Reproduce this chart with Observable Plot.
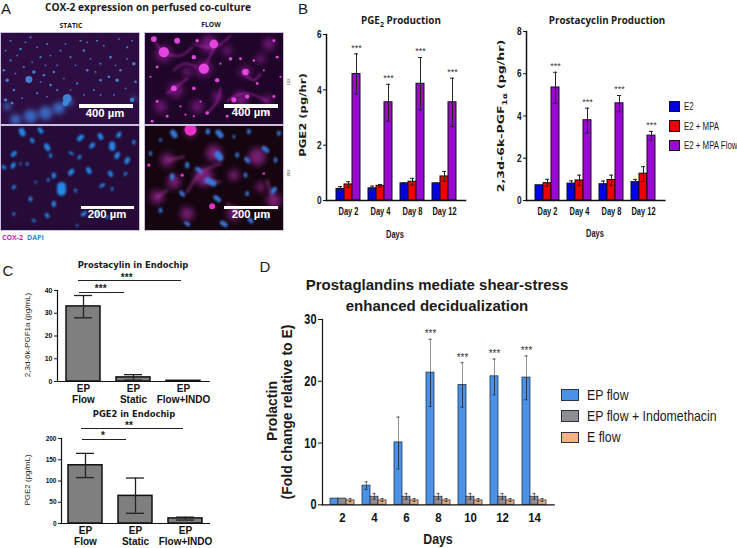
<!DOCTYPE html>
<html><head><meta charset="utf-8">
<script src="https://cdn.jsdelivr.net/npm/d3@7"></script>
<script src="https://cdn.jsdelivr.net/npm/@observablehq/plot@0.6"></script>
<style>
html,body{margin:0;padding:0;background:#fff}
#page{position:relative;width:737px;height:548px;overflow:hidden}
#page svg{position:absolute;overflow:visible}
.t{position:absolute;white-space:nowrap;line-height:1;font-family:"Liberation Sans",sans-serif;color:#1a1a1a}
sub{font-size:70%;line-height:0}
</style></head><body><div id="page"></div>
<script>
const ARIAL='"Liberation Sans",sans-serif';
const WIDE='"DejaVu Sans",sans-serif';
const SANS='"Open Sans",sans-serif';

// ---- Panel B values
const bDays=["Day 2","Day 4","Day 8","Day 12"];
const bSeries=["E2","E2 + MPA","E2 + MPA Flow"];
const bColors=["#0000e8","#ee0000","#9a08d4"];
const pgeE2=[0.42,0.44,0.62,0.62], pgeE2Hi=[0.5,0.52,0.64,0.63], pgeE2Lo=[0.34,0.38,0.6,0.61];
const pgeMpa=[0.58,0.53,0.68,0.87], pgeMpaHi=[0.68,0.58,0.8,1.05], pgeMpaLo=[0.48,0.48,0.56,0.7];
const pgeFlow=[4.57,3.55,4.22,3.55], pgeFlowHi=[5.3,4.2,5.17,4.42], pgeFlowLo=[3.85,2.87,3.28,2.67];
const pgfE2=[0.72,0.8,0.77,0.87], pgfE2Hi=[0.72,0.93,0.92,1.0], pgfE2Lo=[0.72,0.65,0.62,0.72];
const pgfMpa=[0.82,0.95,0.97,1.27], pgfMpaHi=[1.0,1.2,1.2,1.6], pgfMpaLo=[0.68,0.72,0.72,0.9];
const pgfFlow=[5.35,3.8,4.6,3.07], pgfFlowHi=[6.07,4.37,4.97,3.27], pgfFlowLo=[4.6,3.2,4.2,2.87];

// ---- Panel C values
const cCats=["EP\nFlow","EP\nStatic","EP\nFlow+INDO"];
const cPgf=[33,1.8,0.3], cPgfHi=[37.8,3.0,0.3], cPgfLo=[28,0.6,0.3];
const cPge=[137,65,12], cPgeHi=[165,107,15], cPgeLo=[108,24,8];

// ---- Panel D values
const dDays=["2","4","6","8","10","12","14"];
const dSeries=["EP flow","EP flow + Indomethacin","E flow"];
const dColors=["#4a92e8","#8e8e92","#f4b27c"];
const dFlow=[1,3.1,10.1,21.4,19.4,20.8,20.6], dFlowHi=[1,3.7,14.2,26.8,23,23.6,24.1], dFlowLo=[1,2.5,5.8,15.9,15.8,17.8,17];
const dIndo=[1,1.3,1.3,1.3,1.3,1.3,1.3], dIndoHi=[1,1.8,1.8,1.8,1.8,1.8,1.8], dIndoLo=[1,0.9,0.9,0.9,0.9,0.9,0.9];
const dE=[0.7,0.7,0.7,0.7,0.7,0.7,0.7], dEHi=[1,1,1,1,1,1,1], dELo=[0.5,0.5,0.5,0.5,0.5,0.5,0.5];

const tlNuclei=[[85,238,8],[200,295,10],[195,310,7],[60,145,3],[100,215,4],[130,225,3],[160,215,3],[150,255,3],[180,150,2.5],[210,170,2.5],[250,150,3],[290,120,2.5],[330,170,3],[350,240,4],[400,190,4],[395,300,5],[360,210,3],[300,240,3],[260,210,3],[230,250,2.5],[120,170,2.5],[30,180,2.5],[20,240,4],[40,270,3],[110,280,2.5],[70,200,2.5],[325,230,3],[280,270,2.5],[170,270,2.5],[300,190,2.5],[380,140,2.5],[240,120,2.5],[140,130,2.5],[90,110,2.5],[30,120,2.5],[15,300,4],
 [50,165,2],[75,125,2],[110,140,2],[150,165,2],[195,130,2],[225,195,2],[270,175,2],[310,135,2],[355,115,2],[395,120,2],[405,245,3],[375,265,2],[340,285,2],[300,285,2],[250,285,2],[140,290,2],[95,185,2],[45,220,2],[15,150,2],[135,195,2],[190,235,2],[285,215,2],[345,195,2],[380,175,2],[65,295,2],[35,310,3],[120,245,2],[210,270,2],[170,195,2],[260,125,2],[10,210,3]];
const tlHaze=[[45,360,16],[90,350,20],[135,340,20],[175,325,18],[205,305,12],[400,295,7],[20,320,10]];
const trHaze=[[490,160,24],[625,130,26],[610,205,24],[735,215,18],[525,270,22],[720,298,22],[480,320,18],[805,130,18],[590,320,18],[560,215,14],[680,150,14],[780,175,14],[650,290,14],[800,300,14]];
const trStrands=[[[465,125],[490,155],[540,165],[575,140]],[[580,130],[640,140],[690,105]],[[610,205],[640,145]],[[500,280],[525,262],[560,235]],[[680,305],[710,285],[750,282],[800,305]],[[725,215],[760,240],[780,220]],[[590,200],[550,190],[520,210]],[[620,340],[650,305],[660,265]]];
const trSpots=[[610,205,14],[640,130,12],[490,155,14],[735,215,9],[650,240,6],[520,265,8],[690,175,5],[580,170,6],[580,265,5],[460,115,8],[530,120,8],[590,120,5],[720,175,4],[760,180,3.5],[700,300,7],[740,290,6],[470,305,4],[500,350,4],[620,340,5],[580,350,3],[680,350,4],[800,340,4],[820,290,4],[830,170,4],[820,120,4],[770,250,4],[450,230,3],[470,200,4],[455,365,4],[540,320,3],[600,305,3],[660,190,3],[790,210,3],[840,230,3],[555,345,3],[720,340,3]];
const blNuclei=[[65,395,11,2],[120,390,8,3],[95,420,7,2],[40,460,8,-3],[140,440,10,2],[150,465,6,0],[10,500,6,3],[38,495,8,-2],[60,490,4,0],[80,490,5,0],[40,560,6,-2],[105,545,4,0],[143,538,5,0],[160,525,8,0],[183,565,18,0],[240,412,9,-4],[275,435,8,-3],[300,408,9,2],[335,437,12,0],[355,403,8,-2],[350,465,9,-2],[380,480,9,-2],[400,425,6,0],[212,458,5,4],[237,470,6,-2],[212,515,9,-3],[265,510,9,2],[330,520,8,2],[375,520,5,-2],[305,555,6,-4],[335,565,5,0],[225,570,5,0],[160,610,8,0],[90,595,7,0],[100,660,5,2],[140,645,7,2],[40,640,5,0],[250,640,7,-4],[290,640,7,2],[230,675,4,0],[320,650,5,0]];
const brHaze=[[520,545,20],[500,480,20],[610,530,28],[770,470,26],[470,590,20],[560,640,20],[700,640,20],[820,600,22],[640,460,24],[570,392,18],[700,525,16],[780,560,14]];
const brStreaks=[[[560,575],[600,520],[660,490]],[[610,545],[660,545]],[[470,590],[500,570]],[[505,480],[550,470]],[[720,640],[680,610]],[[815,590],[800,540]]];
const brSpots=[[570,390,18],[635,618,9],[545,525,5],[445,495,5],[790,520,4]];
const brNuclei=[[520,402,11,3],[657,402,11,4],[622,395,8,0],[745,395,7,0],[835,400,7,0],[560,495,8,0],[655,468,13,4],[515,530,9,0],[710,465,7,0],[740,480,8,3],[795,448,9,5],[825,480,7,0],[735,525,7,0],[630,545,12,9],[595,510,8,5],[545,580,8,3],[650,595,9,5],[480,630,7,0],[740,580,7,0],[820,570,9,-3],[750,660,8,3],[670,670,9,5],[560,670,7,4],[800,650,7,0],[450,460,6,0],[480,420,5,0],[700,410,5,0]];

const page=document.getElementById("page");
function put(svg,x,y){svg.style.left=x+"px";svg.style.top=y+"px";page.appendChild(svg);}
function txt(html,x,y,o={}){
  const d=document.createElement("div");
  d.className="t";
  d.innerHTML=html;
  d.style.left=x+"px";d.style.top=y+"px";
  d.style.fontSize=(o.size||10)+"px";
  d.style.fontFamily=o.font||ARIAL;
  d.style.fontWeight=o.weight||"normal";
  if(o.color)d.style.color=o.color;
  const sx=o.sx||1;
  if(o.left){d.style.transform=`translate(0,-50%) scaleX(${sx})`;d.style.transformOrigin="0 50%";}
  else if(o.vert){d.style.transform=`translate(-50%,-50%) rotate(-90deg) scaleX(${sx})`;}
  else d.style.transform=`translate(-50%,-50%) scaleX(${sx})`;
  page.appendChild(d);
}
function box(x,y,w,h,bg,extra=""){
  const d=document.createElement("div");
  d.style.cssText=`position:absolute;left:${x}px;top:${y}px;width:${w}px;height:${h}px;background:${bg};${extra}`;
  page.appendChild(d);
}
// Squeeze tick labels to mimic the reference's narrow face.
function squeeze(svg,scaleY,scaleX){
  const gs=[...svg.querySelectorAll("g[aria-label='y-axis tick label']")].map(g=>[g,scaleY])
    .concat([...svg.querySelectorAll("g[aria-label='x-axis tick label']")].map(g=>[g,scaleX]));
  gs.forEach(([g,s])=>{ if(!s) return;
    g.querySelectorAll("text").forEach(t=>{
      t.setAttribute("textLength",t.getComputedTextLength()*s);
      t.setAttribute("lengthAdjust","spacingAndGlyphs");
    });
  });
}

// Generic bar chart. Keys are "group|series"; one spare band separates the groups.
function barChart(c){
  const mL=32,mT=12,mR=6,mB=c.mB||24;
  const W=c.x1-c.x0,H=c.yBase-c.yTop;
  const withErr=c.rows.filter(d=>d.hi>d.lo);
  const plot=Plot.plot({
    width:mL+W+mR,height:mT+H+mB,
    marginLeft:mL,marginRight:mR,marginTop:mT,marginBottom:mB,
    style:{background:"transparent",overflow:"visible"},
    x:{domain:c.domain,paddingInner:c.pi,paddingOuter:c.po,axis:null,label:null,range:[mL,mL+W]},
    y:{domain:c.y,range:[mT+H,mT],label:null,axis:null},
    marks:[
      Plot.barY(c.rows,{x:"key",y:"v",fill:"color",stroke:c.stroke||"#111",strokeWidth:c.sw||1}),
      Plot.ruleX(withErr,{x:"key",y1:"v",y2:"hi",stroke:c.upper||"#222",strokeWidth:c.ew||1}),
      Plot.ruleX(withErr,{x:"key",y1:"lo",y2:"v",stroke:"#222",strokeWidth:c.ew||1}),
      Plot.tickY(withErr,{x:"key",y:"hi",stroke:"#222",strokeWidth:c.ew||1,insetLeft:c.cap,insetRight:c.cap}),
      Plot.tickY(withErr,{x:"key",y:"lo",stroke:"#222",strokeWidth:c.ew||1,insetLeft:c.cap,insetRight:c.cap}),
      c.stars?Plot.text(c.rows.filter(d=>d.star),{x:"key",y:"hi",text:d=>d.star,dy:c.starDy||-6,fontSize:c.starSize||10,fill:"#333",fontFamily:ARIAL}):null,
      Plot.frame({anchor:"left",stroke:"#111",strokeWidth:c.aw||1.5}),
      Plot.frame({anchor:"bottom",stroke:"#111",strokeWidth:c.aw||1.5}),
      Plot.axisY({ticks:c.ticks,tickSize:c.ts||3,tickPadding:c.tp||2,fontSize:c.ys,fontFamily:ARIAL,fontWeight:"bold",fill:"#111",stroke:"#111",strokeWidth:1,label:null,tickFormat:d=>d}),
      Plot.axisX({ticks:c.labels,tickFormat:c.fmt,tickSize:0,tickPadding:c.xp||6,fontSize:c.xs,fontFamily:ARIAL,fontWeight:"bold",fill:"#111",label:null,lineHeight:c.lh||1})
    ]
  });
  put(plot,c.x0-mL,c.yTop-mT);
  squeeze(plot,c.ysx,c.xsx);
}
function rowsFor(groups,series,colors,vals,his,los,starred){
  return groups.flatMap((g,i)=>series.map((s,j)=>({
    key:g+"|"+s,v:vals[j][i],hi:his[j][i],lo:los[j][i],color:colors[j],
    star:starred&&starred[j]?"***":null})));
}
function groupedDomain(groups,series){
  return groups.flatMap((g,i)=>[...series.map(s=>g+"|"+s),...(i<groups.length-1?["gap"+i]:[])]);
}
const mid=(groups,series)=>groups.map(g=>g+"|"+series[1]);
const gname=k=>k.split("|")[0];

// Panel B
const bStar=[false,false,true];
barChart({x0:326,x1:465,yTop:34,yBase:200,y:[0,6],ticks:[0,2,4,6],
  domain:groupedDomain(bDays,bSeries),pi:0,po:0.45,
  rows:rowsFor(bDays,bSeries,bColors,[pgeE2,pgeMpa,pgeFlow],[pgeE2Hi,pgeMpaHi,pgeFlowHi],[pgeE2Lo,pgeMpaLo,pgeFlowLo],bStar),
  stars:true,starDy:-6,starSize:9,cap:2,labels:mid(bDays,bSeries),fmt:gname,ys:11.5,xs:11,xp:7,ysx:.72,xsx:.68});
barChart({x0:525.7,x1:664,yTop:31,yBase:200,y:[0,8],ticks:[0,2,4,6,8],
  domain:groupedDomain(bDays,bSeries),pi:0,po:0.45,
  rows:rowsFor(bDays,bSeries,bColors,[pgfE2,pgfMpa,pgfFlow],[pgfE2Hi,pgfMpaHi,pgfFlowHi],[pgfE2Lo,pgfMpaLo,pgfFlowLo],bStar),
  stars:true,starDy:-6,starSize:9,cap:2,labels:mid(bDays,bSeries),fmt:gname,ys:11.5,xs:11,xp:7,ysx:.72,xsx:.68});

// Panel C
const cRows=(v,h,l)=>cCats.map((k,i)=>({key:k,v:v[i],hi:h[i],lo:l[i],color:"#7f7f7f"}));
barChart({x0:57.3,x1:209,yTop:290,yBase:381,y:[0,40],ticks:[0,10,20,30,40],domain:cCats,pi:0.317,po:0.169,
  rows:cRows(cPgf,cPgfHi,cPgfLo),cap:8,sw:1.5,ew:1.3,labels:cCats,fmt:d=>d,ys:7,xs:10,xp:3.5,mB:32,lh:1.05,ts:3,aw:1.2});
barChart({x0:61,x1:209,yTop:437.7,yBase:522.7,y:[0,200],ticks:[0,50,100,150,200],domain:cCats,pi:0.33,po:0.13,
  rows:cRows(cPge,cPgeHi,cPgeLo),cap:8,sw:1.5,ew:1.3,labels:cCats,fmt:d=>d,ys:6.5,xs:10,xp:3.5,mB:32,lh:1.05,ts:3,aw:1.2});

// Panel D
barChart({x0:322.3,x1:554,yTop:319,yBase:504.3,y:[0,30],ticks:[0,10,20,30],
  domain:groupedDomain(dDays,dSeries),pi:0,po:0.48,
  rows:rowsFor(dDays,dSeries,dColors,[dFlow,dIndo,dE],[dFlowHi,dIndoHi,dEHi],[dFlowLo,dIndoLo,dELo],null)
    .map(d=>({...d,star:d.key.endsWith("|EP flow")&&+gname(d.key)>=8?"***":null})),
  stars:true,starDy:-5,starSize:10,cap:2.5,labels:mid(dDays,dSeries),fmt:gname,ys:14,xs:13,xp:8,sw:0.8,ew:0.8,upper:"#777",mB:24,ts:4,aw:1.2,stroke:"#2b3340",ysx:.78,xsx:.88});

// Panel A micrographs
function micro(x,y,w,h,dom,bg,layers){
  const plot=Plot.plot({width:w,height:h,margin:0,
    x:{domain:dom[0],axis:null},y:{domain:dom[1],axis:null,reverse:true},r:{type:"identity"},
    style:{background:bg,overflow:"hidden"},
    marks:layers.map(l=>{
      if(l.kind==="line") return Plot.line(l.d.flatMap((s,i)=>s.map(p=>[...p,i])),{x:d=>d[0],y:d=>d[1],z:d=>d[2],stroke:l.c,strokeOpacity:l.o,strokeWidth:l.w,curve:"catmull-rom"});
      if(l.kind==="cell") return Plot.link(l.d,{x1:d=>d[0]-(d[3]||0),y1:d=>d[1]-d[2]*0.4,x2:d=>d[0]+(d[3]||0),y2:d=>d[1]+d[2]*0.4,stroke:l.c,strokeOpacity:l.o,strokeWidth:d=>d[2]*1.5/3,strokeLinecap:"round"});
      return Plot.dot(l.d,{x:d=>d[0],y:d=>d[1],r:d=>(l.k||1)*d[2]/3,fill:l.c,fillOpacity:l.o,stroke:"none"});
    })});
  plot.style.overflow="hidden";
  plot.style.outline="1px solid #cbbfe0";
  [...plot.children].filter(n=>n.tagName==="g").forEach((g,i)=>{ if(layers[i]) g.style.filter=`blur(${layers[i].b}px)`; });
  put(plot,x,y);
}
micro(1,33,138,91,[[3,417],[98,375]],"#2e0e42",[
  {d:tlHaze,c:"#3c78d8",o:0.85,b:2.5},{d:tlNuclei,c:"#3f86d8",o:0.95,b:0.5,k:1.3}]);
micro(145,33,138,91,[[435,849],[98,375]],"#1f0628",[
  {d:trHaze,c:"#8e1c92",o:0.75,b:3},{d:trStrands,kind:"line",c:"#d030d0",o:0.55,w:1.8,b:1.2},{d:trSpots,c:"#ea48e4",o:0.95,b:0.7,k:1.1}]);
micro(1,126,138,104,[[3,417],[378,690]],"#260a38",[
  {d:blNuclei,kind:"cell",c:"#2388e8",o:1,b:0.8}]);
micro(145,126,138,104,[[435,849],[380,690]],"#14050f",[
  {d:brHaze,c:"#a42aa0",o:0.7,b:3},{d:brStreaks,kind:"line",c:"#cc48c0",o:0.45,w:2.5,b:1.4},{d:brSpots,c:"#e830c8",o:1,b:0.7},{d:brNuclei,kind:"cell",c:"#3a7ce0",o:0.95,b:0.8}]);
[[79.3,104],[224,104],[80.7,205.7],[224,205.7]].forEach(([x,y])=>box(x,y,53.5,3.6,"#fff"));
const barText={color:"#fff",size:11.3,weight:"bold"};
txt("400 µm",105,113.5,barText);txt("400 µm",251,113,barText);
txt("200 µm",107,215,barText);txt("200 µm",251,215,barText);

// Panel A text
txt("COX-2 expression on perfused co-culture",148,6.5,{size:10.2,weight:"bold",font:SANS});
txt("STATIC",71,25.5,{size:6.8,weight:"bold",font:SANS});
txt("FLOW",211,24.5,{size:6.8,weight:"bold",font:SANS});
txt("10X",288.5,82,{size:4,vert:true});
txt("20X",289,173,{size:4,vert:true});
txt("COX-2",2,237,{size:7,weight:"bold",left:true,color:"#d01fa8",font:SANS});
txt("DAPI",27,237,{size:7,weight:"bold",left:true,color:"#2f8ae0",font:SANS});
// Panel letters
txt("A",6,8,{size:15});txt("B",303,8,{size:15});txt("C",8,270,{size:15});txt("D",265,266,{size:15});

// Panel B text
txt("PGE<sub>2</sub> Production",401,21,{size:9.9,weight:"bold",font:SANS});
txt("Prostacyclin Production",607,21,{size:9.8,weight:"bold",font:SANS});
txt("PGE2 (pg/hr)",303,115,{size:9.5,weight:"bold",font:WIDE,vert:true,sx:1.22});
txt("2,3d-6k-PGF<sub>1α</sub> (pg/hr)",501,116,{size:9.5,weight:"bold",font:WIDE,vert:true,sx:1.32});
txt("Days",395,235,{size:11.5,weight:"bold",sx:.65});
txt("Days",595,234,{size:11.5,weight:"bold",sx:.65});
bSeries.forEach((s,i)=>{
  box(668.7,100.5+i*19.6,9.5,9.5,bColors[i],"border:1px solid #111");
  txt(s,684,106+i*19.6,{size:10.5,left:true,sx:.75});
});

// Panel C text
txt("Prostacylin in Endochip",133,265,{size:8.4,weight:"bold",font:WIDE});
txt("PGE2 in Endochip",134,414,{size:8.4,weight:"bold",font:WIDE});
txt("2,3d-6k-PGF1a (pg/mL)",28,335,{size:8,vert:true});
txt("PGE2 (pg/mL)",28,480,{size:8,vert:true});
[[78,181.3,280],[79,124,291.7],[81,182.7,428],[82,126,438.5]].forEach(([a,b,y])=>box(a,y,b-a,1,"#222"));
txt("***",126.7,278,{size:10,weight:"bold"});txt("***",100.7,288.5,{size:10,weight:"bold"});
txt("**",129,425.5,{size:10,weight:"bold"});txt("*",103,436,{size:10,weight:"bold"});

// Panel D text
txt("Prostaglandins mediate shear-stress",437,284,{size:15,weight:"bold"});
txt("enhanced decidualization",437,305,{size:15,weight:"bold"});
txt("Prolactin",272,411,{size:14,weight:"bold",vert:true});
txt("(Fold change relative to E)",287,412,{size:14,weight:"bold",vert:true});
txt("Days",438,539,{size:14.5,weight:"bold",sx:.85});
dSeries.forEach((s,i)=>{
  box(561.3,389+i*21.3,15.5,9.5,dColors[i],"border:1px solid #2b3340");
  txt(s,587,394.5+i*21.3,{size:14.5,left:true,sx:.85});
});
</script></body></html>
